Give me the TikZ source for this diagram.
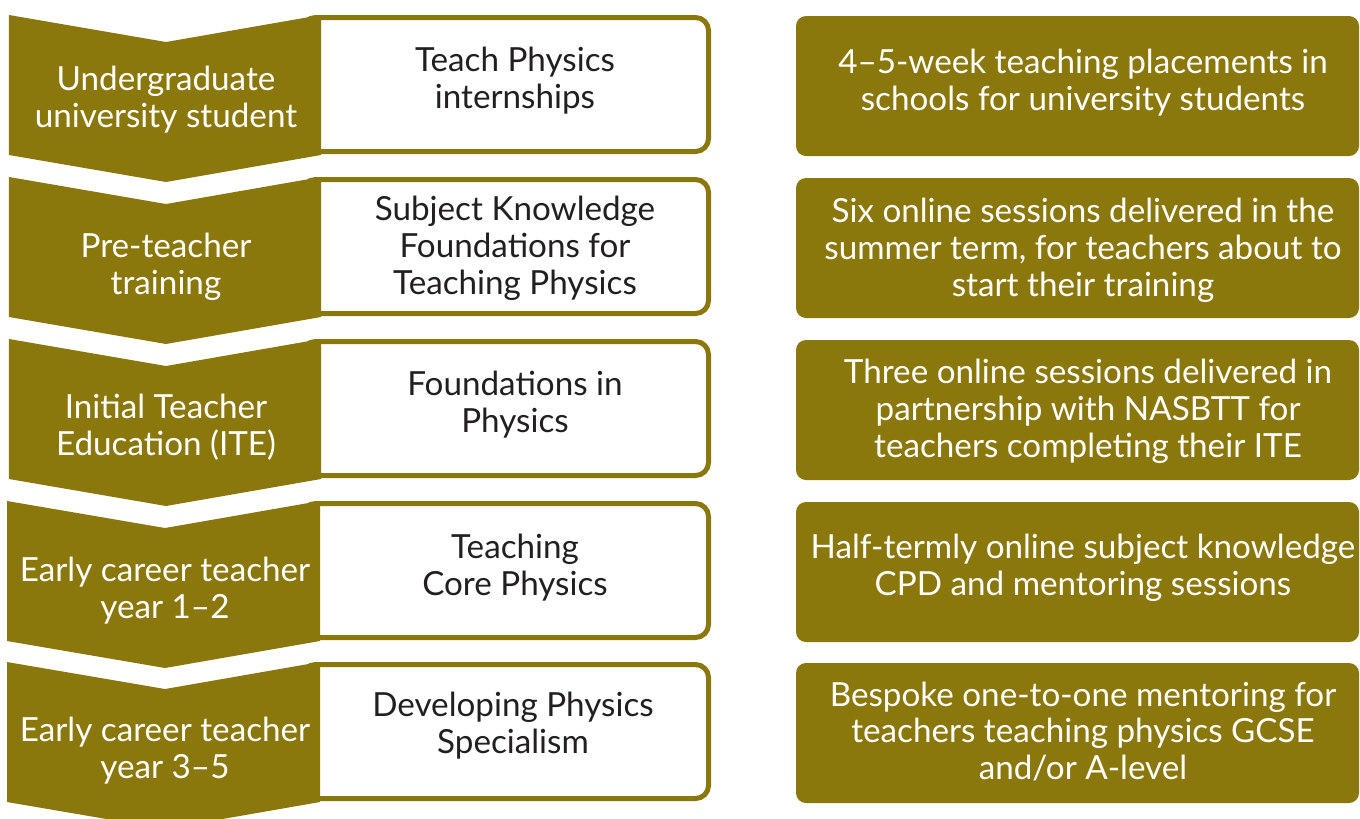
\documentclass[tikz,border=0pt]{standalone}
\usepackage{fontspec}
\setmainfont{Lato}
\definecolor{iopgold}{RGB}{139,120,12}
\definecolor{inkgrey}{RGB}{35,31,32}

\begin{document}
\begin{tikzpicture}[
    course/.style={draw=iopgold, line width=0.1cm, fill=white, rounded corners=0.26cm,
        minimum width=8.12cm, minimum height=2.68cm, inner sep=0pt},
    detail/.style={fill=iopgold, rounded corners=0.2cm,
        minimum width=11.26cm, minimum height=2.8cm, inner sep=0pt},
    stagetext/.style={text=white, align=center, font=\fontsize{18.9}{21}\selectfont},
    coursetext/.style={text=inkgrey, align=center, font=\fontsize{18.9}{21}\selectfont},
    detailtext/.style={text=white, align=center, font=\fontsize{18.9}{21}\selectfont}]
    \useasboundingbox (0,0) rectangle (27.2,-16.36);
    \clip (0,0) rectangle (27.2,-16.36);

    % White course boxes (left end sits under the chevrons)
    \node[course] (c1) at (10.11,-1.69) {};
    \node[course] (c2) at (10.11,-4.93) {};
    \node[course] (c3) at (10.11,-8.17) {};
    \node[course] (c4) at (10.11,-11.41) {};
    \node[course] (c5) at (10.11,-14.63) {};

    % Career stage chevrons
    \fill[iopgold] (0.18,-0.30) -- (3.32,-0.84) -- (6.42,-0.30) -- (6.42,-3.10) -- (3.32,-3.64) -- (0.18,-3.10) -- cycle;
    \fill[iopgold] (0.18,-3.54) -- (3.32,-4.08) -- (6.42,-3.54) -- (6.42,-6.34) -- (3.32,-6.88) -- (0.18,-6.34) -- cycle;
    \fill[iopgold] (0.18,-6.78) -- (3.32,-7.32) -- (6.42,-6.78) -- (6.42,-9.58) -- (3.32,-10.12) -- (0.18,-9.58) -- cycle;
    \fill[iopgold] (0.14,-10.02) -- (3.30,-10.56) -- (6.40,-10.02) -- (6.40,-12.82) -- (3.30,-13.36) -- (0.14,-12.82) -- cycle;
    \fill[iopgold] (0.14,-13.24) -- (3.30,-13.78) -- (6.40,-13.24) -- (6.40,-16.04) -- (3.30,-16.58) -- (0.14,-16.04) -- cycle;

    % Stage names
    \node[stagetext] (s1) at (3.32,-1.99) {Undergraduate\\university student};
    \node[stagetext] (s2) at (3.32,-5.34) {Pre-teacher\\training};
    \node[stagetext] (s3) at (3.32,-8.54) {Initial Teacher\\Education (ITE)};
    \node[stagetext] (s4) at (3.30,-11.81) {Early career teacher\\year 1--2};
    \node[stagetext] (s5) at (3.30,-15.02) {Early career teacher\\year 3--5};

    % Course names
    \node[coursetext] (n1) at (10.30,-1.61) {Teach Physics\\internships};
    \node[coursetext] (n2) at (10.30,-4.97) {Subject Knowledge\\Foundations for\\Teaching Physics};
    \node[coursetext] (n3) at (10.30,-8.09) {Foundations in\\Physics};
    \node[coursetext] (n4) at (10.30,-11.36) {Teaching\\Core Physics};
    \node[coursetext] (n5) at (10.26,-14.52) {Developing Physics\\Specialism};

    % Descriptions on the right
    \node[detail] (d1) at (21.55,-1.72) {};
    \node[detail] (d2) at (21.55,-4.96) {};
    \node[detail] (d3) at (21.55,-8.20) {};
    \node[detail] (d4) at (21.55,-11.44) {};
    \node[detail] (d5) at (21.55,-14.66) {};

    \node[detailtext] (e1) at (21.66,-1.65) {4--5-week teaching placements in\\schools for university students};
    \node[detailtext] (e2) at (21.66,-5.01) {Six online sessions delivered in the\\summer term, for teachers about to\\start their training};
    \node[detailtext] (e3) at (21.76,-8.23) {Three online sessions delivered in\\partnership with NASBTT for\\teachers completing their ITE};
    \node[detailtext] (e4) at (21.66,-11.35) {Half-termly online subject knowledge\\CPD and mentoring sessions};
    \node[detailtext] (e5) at (21.66,-14.63) {Bespoke one-to-one mentoring for\\teachers teaching physics GCSE\\and/or A-level};
\end{tikzpicture}
\end{document}
